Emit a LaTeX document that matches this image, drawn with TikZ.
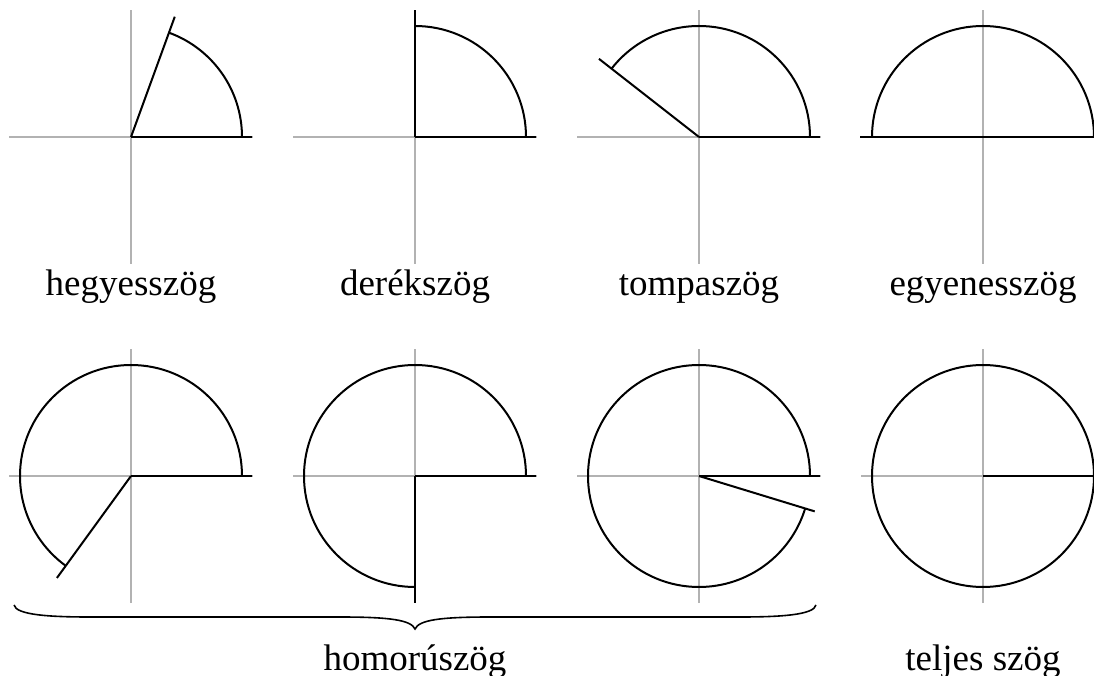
\documentclass[tikz,border=0pt]{standalone}
\usepackage{fontspec}
\setmainfont{Liberation Serif}

\begin{document}
\begin{tikzpicture}[
    x=1pt, y=1pt,
    axis/.style={draw=gray!60, line width=1.5pt},
    leg/.style={draw=black, line width=2pt},
    anglename/.style={anchor=base, inner sep=0pt, font=\fontsize{37}{44}\selectfont}
]
    \useasboundingbox (0,0) rectangle (1094,675);

    % Centres
    \coordinate (hegyes) at (131,538);
    \coordinate (derek) at (415,538);
    \coordinate (tompa) at (699,538);
    \coordinate (egyenes) at (983,538);
    \coordinate (homA) at (131,199);
    \coordinate (homB) at (415,199);
    \coordinate (homC) at (699,199);
    \coordinate (teljes) at (983,199);

    % Axes
    \foreach \c in {hegyes,derek,tompa,egyenes,homA,homB,homC,teljes} {
        \draw[axis] ([xshift=-122pt]\c) -- ([xshift=122pt]\c);
        \draw[axis] ([yshift=-127pt]\c) -- ([yshift=127pt]\c);
    }

    % Angles
    \foreach \c/\a/\l in {hegyes/70/128, derek/90/127, tompa/142/127, egyenes/180/123,
                          homA/234/126, homB/270/127, homC/343/121} {
        \draw[leg] ([xshift=111pt]\c) arc[start angle=0, end angle=\a, radius=111];
        \draw[leg] (\c) -- ++(0:121);
        \draw[leg] (\c) -- ++(\a:\l);
    }
    \draw[leg] (teljes) circle[radius=111];
    \draw[leg] (teljes) -- ++(0:121);

    % Brace
    \coordinate (braceL) at (14,70);
    \coordinate (braceTip) at (415,46);
    \coordinate (braceR) at (816,70);
    \draw[leg, line width=1.6pt] (braceL) .. controls (16,60) and (50,58) .. (90,58) -- (340,58)
        .. controls (390,58) and (411,55) .. (braceTip)
        .. controls (419,55) and (440,58) .. (490,58) -- (740,58)
        .. controls (780,58) and (814,60) .. (braceR);

    % Labels
    \node[anglename] (lblhegyes) at ([yshift=-159pt]hegyes) {hegyesszög};
    \node[anglename] (lblderek) at ([yshift=-159pt]derek) {derékszög};
    \node[anglename] (lbltompa) at ([yshift=-159pt]tompa) {tompaszög};
    \node[anglename] (lblegyenes) at ([yshift=-159pt]egyenes) {egyenesszög};
    \node[anglename] (lblhomoru) at ([yshift=-194pt]homB) {homorúszög};
    \node[anglename] (lblteljes) at ([yshift=-194pt]teljes) {teljes szög};
\end{tikzpicture}
\end{document}
